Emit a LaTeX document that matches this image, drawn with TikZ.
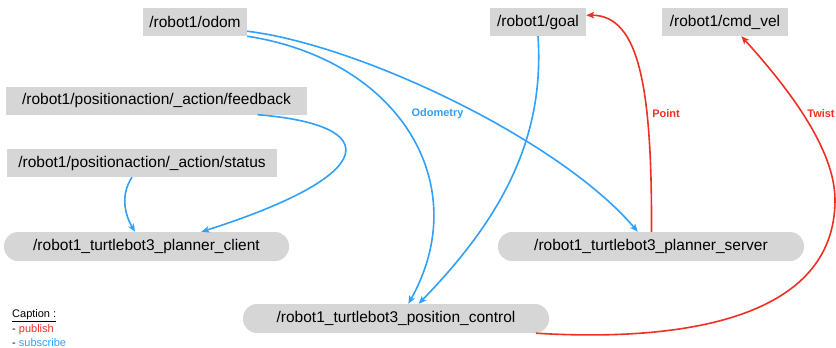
\documentclass[tikz,border=0pt]{standalone}
\usepackage{fontspec}
\setmainfont{Liberation Sans}
\usetikzlibrary{arrows.meta}
\definecolor{subblue}{RGB}{48,160,250}
\definecolor{pubred}{RGB}{238,48,36}
\definecolor{boxgray}{RGB}{214,214,214}
\begin{document}
\begin{tikzpicture}[x=1pt,y=-1pt,
  topic/.style={fill=boxgray, minimum height=28pt, inner sep=0pt, font=\fontsize{15.5}{18}\selectfont},
  rosnode/.style={topic, rounded corners=14pt, minimum height=29pt},
  sub/.style={draw=subblue, line width=1.6pt, -{Stealth[length=8pt,width=6.5pt,inset=2pt]}},
  pub/.style={sub, draw=pubred},
  lbl/.style={font=\fontsize{11}{13}\selectfont\bfseries},
  captext/.style={anchor=west, inner sep=0pt, font=\fontsize{11}{13}\selectfont}]
\useasboundingbox (0,0) rectangle (836,348);

% topics
\node[topic, minimum width=104pt] (odom) at (195,22) {/robot1/odom};
\node[topic, minimum width=96pt] (goal) at (538,22) {/robot1/goal};
\node[topic, minimum width=126pt] (cmd) at (725,22) {/robot1/cmd\_vel};
\node[topic, minimum width=301pt] (fb) at (156.5,100.5) {/robot1/positionaction/\_action/feedback};
\node[topic, minimum width=270pt] (status) at (142,163) {/robot1/positionaction/\_action/status};

% nodes
\node[rosnode, minimum width=285pt] (client) at (146.5,246.5) {/robot1\_turtlebot3\_planner\_client};
\node[rosnode, minimum width=306pt] (server) at (651,246.5) {/robot1\_turtlebot3\_planner\_server};
\node[rosnode, minimum width=306pt] (ctrl) at (396,318.5) {/robot1\_turtlebot3\_position\_control};

% subscribe
\path[sub] (odom.-10) .. controls (360,45) and (560,140) .. (server.132);
\path[sub] (odom.south east) .. controls (400,60) and (475,185) .. (ctrl.50);
\path[sub] (goal.south) .. controls (545,140) and (500,220) .. (ctrl.33);
\path[sub] (fb.-8) .. controls (385,125) and (380,175) .. (client.15);
\path[sub] (status.-125) .. controls (120,195) and (125,215) .. (client.128);

% publish
\path[pub] (server.88) .. controls (652,90) and (640,15) .. (goal.8);
\path[pub] (ctrl.-6) .. controls (680,342) and (835,320) .. (835,200)
  .. controls (835,150) and (790,90) .. (cmd.-41);

% labels
\node[lbl, text=subblue] (odomlbl) at (437.5,114) {Odometry};
\node[lbl, text=pubred] (pointlbl) at (666,114) {Point};
\node[lbl, text=pubred] (twistlbl) at (821,114) {Twist};

% caption
\node[captext] (capt) at (12,316) {\underline{Caption :}};
\node[captext] (pubcapt) at (12,329.5) {- \textcolor{pubred}{publish}};
\node[captext] (subcapt) at (12,343) {- \textcolor{subblue}{subscribe}};
\end{tikzpicture}
\end{document}
